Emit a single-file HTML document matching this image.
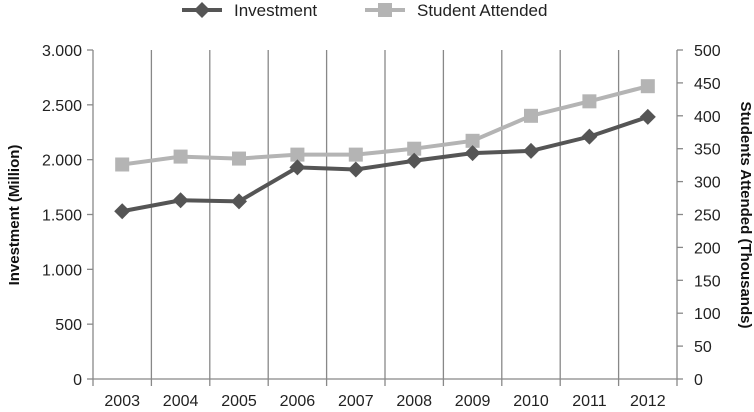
<!DOCTYPE html>
<html><head><meta charset="utf-8"><style>
body{margin:0;background:#fff}
svg{display:block;font-family:"Liberation Sans",sans-serif}
</style></head><body>
<svg id="chart" width="754" height="412"></svg>
<script>
const categories=["2003","2004","2005","2006","2007","2008","2009","2010","2011","2012"];
const investment=[1530,1630,1620,1930,1910,1990,2060,2080,2210,2390];
const students=[326,338,335,341,341,350,362,400,422,445];
const leftTicks=[0,500,1000,1500,2000,2500,3000];
const leftTickLabels=["0","500","1.000","1.500","2.000","2.500","3.000"];
const rightTicks=[0,50,100,150,200,250,300,350,400,450,500];

const svg=document.getElementById('chart');
const NS='http://www.w3.org/2000/svg';
const X0=93,X1=677,Y0=379,Y1=50;
const bw=(X1-X0)/categories.length;
const xC=i=>X0+bw*(i+0.5);
const yL=v=>Y0-(v/3000)*(Y0-Y1);
const yR=v=>Y0-(v/500)*(Y0-Y1);
function mk(tag,attrs,parent){const e=document.createElementNS(NS,tag);for(const k in attrs)e.setAttribute(k,attrs[k]);(parent||svg).appendChild(e);return e;}

// vertical gridlines
for(let i=0;i<=categories.length;i++){
  const g=mk('line',{x1:X0+bw*i,x2:X0+bw*i,y1:Y1,y2:Y0+7,stroke:'#888','stroke-width':1.3});
  
  
}
// axes
const ax=mk('line',{x1:X0,x2:X1,y1:Y0,y2:Y0,stroke:'#888','stroke-width':1.3});


leftTicks.forEach((v,i)=>{
  mk('line',{x1:X0-6,x2:X0,y1:yL(v),y2:yL(v),stroke:'#888','stroke-width':1.3});
  const t=mk('text',{x:X0-11,y:yL(v)+6,'text-anchor':'end','font-size':16,fill:'#222'});
  t.textContent=leftTickLabels[i];
  
  
});
rightTicks.forEach(v=>{
  mk('line',{x1:X1,x2:X1+6,y1:yR(v),y2:yR(v),stroke:'#888','stroke-width':1.3});
  const t=mk('text',{x:X1+17,y:yR(v)+6,'text-anchor':'start','font-size':16,fill:'#222'});
  t.textContent=v;
  
  
});
categories.forEach((c,i)=>{
  const t=mk('text',{x:xC(i),y:406,'text-anchor':'middle','font-size':16,fill:'#222'});
  t.textContent=c;
  
  
});
// axis titles
const lt=mk('text',{transform:'translate(19,215) rotate(-90)','text-anchor':'middle','font-size':15,'font-weight':'bold',fill:'#111'});
lt.textContent='Investment (Million)';


const rt=mk('text',{transform:'translate(741,215) rotate(90)','text-anchor':'middle','font-size':15,'font-weight':'bold',fill:'#111'});
rt.textContent='Students Attended (Thousands)';



function diamond(x,y,s,c){return mk('polygon',{points:`${x},${y-s} ${x+s},${y} ${x},${y+s} ${x-s},${y}`,fill:c});}
function square(x,y,s,c){return mk('rect',{x:x-s,y:y-s,width:2*s,height:2*s,fill:c});}

// students series
const sp=mk('polyline',{points:students.map((v,i)=>xC(i)+','+yR(v)).join(' '),fill:'none',stroke:'#b4b4b4','stroke-width':4});


students.forEach((v,i)=>{
  const m=square(xC(i),yR(v),7,'#b4b4b4');
  
  
});
// investment series
const ip=mk('polyline',{points:investment.map((v,i)=>xC(i)+','+yL(v)).join(' '),fill:'none',stroke:'#555','stroke-width':4});


investment.forEach((v,i)=>{
  const m=diamond(xC(i),yL(v),8,'#555');
  
  
});
// legend
const l1=mk('line',{x1:182,x2:222,y1:10,y2:10,stroke:'#555','stroke-width':4});


diamond(202,10,8,'#555');
const t1=mk('text',{x:234,y:16,'font-size':17,fill:'#222'});
t1.textContent='Investment';


const l2=mk('line',{x1:365,x2:405,y1:10,y2:10,stroke:'#b4b4b4','stroke-width':4});


square(385,10,7,'#b4b4b4');
const t2=mk('text',{x:417,y:16,'font-size':17,fill:'#222'});
t2.textContent='Student Attended';


</script>
</body></html>
